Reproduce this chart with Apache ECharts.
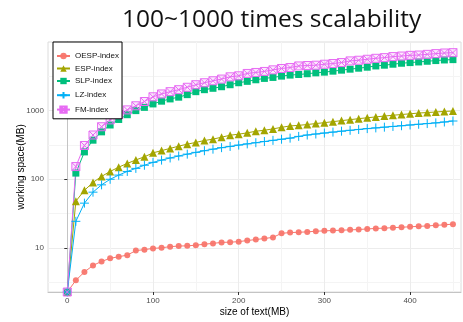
<!DOCTYPE html>
<html>
<head>
<meta charset="utf-8">
<script src="https://cdn.jsdelivr.net/npm/echarts@6/dist/echarts.min.js"></script>
<style>
  html, body { margin: 0; padding: 0; background: #fff; }
  #chart { width: 463px; height: 322px; }
</style>
</head>
<body>
<div id="chart"></div>
<script>
// size of text (MB)
const sizeMB = [0, 10, 20, 30, 40, 50, 60, 70, 80, 90, 100, 110, 120, 130, 140, 150, 160, 170, 180, 190,
  200, 210, 220, 230, 240, 250, 260, 270, 280, 290, 300, 310, 320, 330, 340, 350, 360, 370, 380, 390,
  400, 410, 420, 430, 440, 450]

// working space (MB); 0 sits on the bottom edge like ggplot's -Inf
const oespIndex = [0, 3.4, 4.5, 5.6, 6.4, 7.1, 7.5, 7.9, 9.2, 9.5, 9.9, 10.1, 10.5, 10.7, 10.8, 11.0, 11.4, 11.7, 12.1, 12.2,
  12.4, 12.9, 13.3, 13.8, 14.3, 16.4, 16.8, 17.0, 17.2, 17.6, 17.8, 18.0, 18.2, 18.4, 18.6, 19.0, 19.3, 19.5, 19.8, 20.1,
  20.4, 20.7, 21.0, 21.4, 21.8, 22.3]
const espIndex = [0, 48, 69, 90, 110, 130, 150, 170, 191, 212, 242, 261, 281, 303, 324, 343, 366, 383, 409, 437,
  452, 473, 499, 516, 540, 569, 596, 608, 625, 645, 665, 688, 712, 735, 760, 783, 806, 830, 852, 873,
  895, 917, 933, 950, 970, 980]
const slpIndex = [0, 123, 250, 370, 489, 615, 740, 868, 995, 1110, 1245, 1365, 1472, 1560, 1698, 1876, 2005, 2100, 2213, 2367,
  2529, 2649, 2793, 2924, 3020, 3155, 3266, 3330, 3420, 3524, 3606, 3726, 3853, 3981, 4114, 4253, 4436, 4550, 4700, 4856,
  4966, 5070, 5190, 5310, 5420, 5480]
const lzIndex = [0, 24.5, 45, 65, 83, 100, 115, 130, 144, 160, 176, 190, 204, 218, 232, 246, 260, 274, 288, 300,
  314, 327, 340, 354, 368, 382, 396, 420, 440, 455, 470, 485, 500, 515, 530, 545, 558, 572, 586, 600,
  615, 630, 645, 660, 680, 703]
const fmIndex = [0, 153, 310, 440, 580, 730, 870, 1020, 1170, 1350, 1580, 1738, 1876, 2005, 2173, 2367, 2529, 2703, 2859, 3083,
  3190, 3452, 3567, 3690, 3890, 4074, 4207, 4436, 4500, 4550, 4700, 4810, 4966, 5250, 5370, 5546, 5730, 5860, 6065, 6180,
  6325, 6390, 6540, 6700, 6840, 6920]

const seriesNames = ['OESP-index', 'ESP-index', 'SLP-index', 'LZ-index', 'FM-index']
const xTicks = [0, 100, 200, 300, 400]
const yTicks = [1, 2, 3] // log10 of 10, 100, 1000

// panel is cut off by the right edge of the picture
const X_MIN = -22.5, X_MAX = 459.4
const Y_MIN = 0.362, Y_MAX = 3.995
const AXIS_FONT = '"Liberation Sans", Arial, sans-serif'

const toLog = v => Math.max(Math.log10(v), Y_MIN)
const pairs = values => sizeMB.map((x, i) => [x, toLog(values[i])])

const makeSeries = (name, values, color, symbol, symbolSize, itemStyle) => ({
  name,
  type: 'line',
  data: pairs(values),
  symbol,
  symbolSize,
  clip: false,
  itemStyle: Object.assign({ color }, itemStyle || {}),
  lineStyle: { color, width: 1 },
  emphasis: { disabled: true },
})

const chart = echarts.init(document.getElementById('chart'), null, { renderer: 'canvas' })
chart.setOption({
  animation: false,
  backgroundColor: '#fff',
  graphic: [{
    type: 'text',
    left: 122,
    top: 8,
    style: { text: '100~1000 times scalability', font: '24.5px "Open Sans", sans-serif', fill: '#111' },
  }],
  grid: {
    left: 48, right: 2, top: 42, bottom: 27,
    show: true, borderColor: '#dcdcdc', borderWidth: 1, backgroundColor: '#fff',
  },
  legend: {
    data: seriesNames,
    orient: 'vertical',
    left: 53, top: 42,
    padding: [10, 3, 5, 3],
    itemWidth: 13, itemHeight: 8, itemGap: 4.5,
    borderColor: '#000', borderWidth: 1, borderRadius: 0, backgroundColor: '#fff',
    textStyle: { fontSize: 8, fontFamily: AXIS_FONT, color: '#111' },
  },
  xAxis: {
    type: 'value',
    min: X_MIN, max: X_MAX,
    name: 'size of text(MB)', nameLocation: 'middle', nameGap: 15, nameMoveOverlap: false,
    nameTextStyle: { fontSize: 10, fontFamily: AXIS_FONT, color: '#000' },
    axisLine: { show: true, onZero: false, lineStyle: { color: '#c4c4c4', width: 1 } },
    axisTick: { show: true, length: 3, customValues: xTicks, lineStyle: { color: '#333' } },
    axisLabel: {
      margin: 5, fontSize: 8, fontFamily: AXIS_FONT, color: '#4d4d4d', customValues: xTicks,
      formatter: v => (xTicks.includes(v) ? String(v) : ''),
    },
    splitLine: { show: true, lineStyle: { color: '#ececec', width: 1 } },
    minorTick: { show: false, splitNumber: 2 },
    minorSplitLine: { show: true, lineStyle: { color: '#f4f4f4', width: 1 } },
  },
  yAxis: {
    type: 'value',
    min: Y_MIN, max: Y_MAX,
    name: 'working space(MB)', nameLocation: 'middle', nameGap: 22, nameMoveOverlap: false,
    nameTextStyle: { fontSize: 10, fontFamily: AXIS_FONT, color: '#000' },
    axisLine: { show: true, lineStyle: { color: '#c4c4c4', width: 1 } },
    axisTick: { show: true, length: 3, customValues: yTicks, lineStyle: { color: '#333' } },
    axisLabel: {
      margin: 4, fontSize: 8, fontFamily: AXIS_FONT, color: '#4d4d4d', customValues: yTicks,
      formatter: v => (yTicks.includes(v) ? String(Math.round(Math.pow(10, v))) : ''),
    },
    splitLine: { show: true, lineStyle: { color: '#ececec', width: 1 } },
    minorTick: { show: false, splitNumber: 2 },
    minorSplitLine: { show: true, lineStyle: { color: '#f4f4f4', width: 1 } },
  },
  series: [
    makeSeries('OESP-index', oespIndex, '#F8766D', 'circle', 6, { opacity: 0.95 }),
    makeSeries('ESP-index', espIndex, '#A3A500', 'triangle', 8),
    makeSeries('SLP-index', slpIndex, '#00BF7D', 'rect', 7),
    makeSeries('LZ-index', lzIndex, '#00B0F6', 'path://M5,0V10M0,5H10', 9,
      { color: 'none', borderColor: '#00B0F6', borderWidth: 1 }),
    makeSeries('FM-index', fmIndex, '#E76BF3', 'path://M0,0H10V10H0Z M0,0L10,10 M10,0L0,10', 8,
      { color: 'rgba(231,107,243,0.15)', borderColor: '#E76BF3', borderWidth: 1 }),
  ],
})
</script>
</body>
</html>
